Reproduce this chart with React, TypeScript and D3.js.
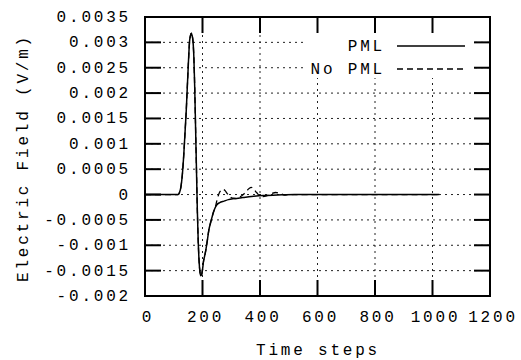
import React, { useRef, useEffect } from "react";
import * as d3 from "d3";

// time steps / field values
const pmlSteps = [0, 100, 115, 120, 125, 130, 135, 140, 143, 147, 151, 155, 158, 161, 164, 167, 170, 173, 176, 179, 182, 185, 188, 191, 194, 197, 200, 204, 208, 212, 217, 222, 227, 232, 238, 244, 250, 260, 275, 290, 310, 340, 370, 410, 460, 520, 1024];
const pmlField = [0, 0, 0, 0.00004, 0.00015, 0.0004, 0.0008, 0.0013, 0.0016, 0.0021, 0.0026, 0.00302, 0.00313, 0.00318, 0.00313, 0.00302, 0.0027, 0.0021, 0.0013, 0.0005, -0.0003, -0.0009, -0.0013, -0.00152, -0.0016, -0.00158, -0.00148, -0.0013, -0.0012, -0.00108, -0.0009, -0.0007, -0.00058, -0.00047, -0.00035, -0.00026, -0.0002, -0.00016, -0.00013, -0.0001, -0.00008, -0.00006, -0.00004, -0.00002, -0.00001, 0, 0];

const noPmlSteps = [0, 100, 115, 120, 125, 130, 135, 140, 143, 147, 151, 155, 158, 161, 164, 167, 170, 173, 176, 179, 182, 185, 188, 191, 194, 197, 200, 204, 208, 212, 217, 222, 227, 232, 238, 244, 250, 255, 260, 266, 272, 278, 286, 295, 305, 318, 330, 342, 352, 362, 370, 378, 388, 398, 410, 425, 440, 455, 470, 485, 500, 1024];
const noPmlField = [0, 0, 0, 0.00004, 0.00015, 0.0004, 0.0008, 0.0013, 0.0016, 0.0021, 0.0026, 0.00302, 0.00313, 0.00318, 0.00313, 0.00302, 0.0027, 0.0021, 0.0013, 0.0005, -0.0003, -0.0009, -0.0013, -0.00152, -0.0016, -0.00158, -0.00148, -0.0013, -0.0012, -0.00108, -0.0009, -0.0007, -0.00058, -0.00047, -0.00035, -0.00026, -0.00012, -0.00002, 0.00005, 0.00009, 0.0001, 0.00008, 0.00002, -0.00004, -0.00007, -0.00008, -0.00005, 0, 0.00006, 0.00012, 0.00014, 0.00011, 0.00004, -0.00002, -0.00004, -0.00002, 0.00002, 0.00004, 0.00002, -0.00001, 0, 0];

const xTicks = [0, 200, 400, 600, 800, 1000, 1200];
const yTicks = [-0.002, -0.0015, -0.001, -0.0005, 0, 0.0005, 0.001, 0.0015, 0.002, 0.0025, 0.003, 0.0035];

const seriesNames = ["PML", "No PML"];

const FONT = "'Liberation Mono', 'Courier New', monospace";

const FieldChart = () => {
  const svgRef = useRef<SVGSVGElement>(null);

  useEffect(() => {
    const root = d3.select(svgRef.current);
    root.selectAll("*").remove();

    const width = 521;
    const height = 360;
    const plot = { left: 145, right: 490, top: 17, bottom: 296 };
    const tickLen = 16;

    const x = d3.scaleLinear().domain([0, 1200]).range([plot.left, plot.right]);
    const y = d3.scaleLinear().domain([-0.002, 0.0035]).range([plot.bottom, plot.top]);

    const svg = root.attr("width", width).attr("height", height);
    svg.append("rect").attr("width", width).attr("height", height).attr("fill", "white");

    // grid
    const grid = svg.append("g").attr("stroke", "#222").attr("stroke-width", 1).attr("stroke-dasharray", "2,4");
    xTicks.slice(1, -1).forEach((t) => {
      grid.append("line").attr("x1", x(t)).attr("x2", x(t)).attr("y1", plot.top).attr("y2", plot.bottom);
    });
    yTicks.slice(1, -1).forEach((t) => {
      grid.append("line").attr("x1", plot.left).attr("x2", plot.right).attr("y1", y(t)).attr("y2", y(t));
    });

    // curves
    const line = d3
      .line<[number, number]>()
      .x((d) => x(d[0]))
      .y((d) => y(d[1]))
      .curve(d3.curveMonotoneX);

    const pml = pmlSteps.map((t, i) => [t, pmlField[i]] as [number, number]);
    const noPml = noPmlSteps.map((t, i) => [t, noPmlField[i]] as [number, number]);

    svg.append("path").attr("d", line(pml)).attr("fill", "none").attr("stroke", "black").attr("stroke-width", 1.5);
    svg
      .append("path")
      .attr("d", line(noPml))
      .attr("fill", "none")
      .attr("stroke", "black")
      .attr("stroke-width", 1.3)
      .attr("stroke-dasharray", "6,4");

    // legend (opaque box hides the grid)
    svg.append("rect").attr("x", 306).attr("y", 34).attr("width", 168).attr("height", 44).attr("fill", "white");
    const legend = svg.append("g").attr("font-family", FONT).attr("font-size", 16).attr("letter-spacing", 2.8);
    seriesNames.forEach((name, i) => {
      const cy = 46 + i * 23;
      legend
        .append("text")
        .attr("x", 385)
        .attr("y", cy + 5)
        .attr("text-anchor", "end")
        .text(name);
      legend
        .append("line")
        .attr("x1", 397)
        .attr("x2", 465)
        .attr("y1", cy)
        .attr("y2", cy)
        .attr("stroke", "black")
        .attr("stroke-width", i === 0 ? 1.5 : 1.3)
        .attr("stroke-dasharray", i === 0 ? null : "6,4");
    });

    // frame + inward ticks
    const ticks = svg.append("g").attr("stroke", "black").attr("stroke-width", 2);
    xTicks.forEach((t) => {
      ticks.append("line").attr("x1", x(t)).attr("x2", x(t)).attr("y1", plot.bottom).attr("y2", plot.bottom - tickLen);
      ticks.append("line").attr("x1", x(t)).attr("x2", x(t)).attr("y1", plot.top).attr("y2", plot.top + tickLen);
    });
    yTicks.forEach((t) => {
      ticks.append("line").attr("x1", plot.left).attr("x2", plot.left + tickLen).attr("y1", y(t)).attr("y2", y(t));
      ticks.append("line").attr("x1", plot.right).attr("x2", plot.right - tickLen).attr("y1", y(t)).attr("y2", y(t));
    });
    svg
      .append("rect")
      .attr("x", plot.left)
      .attr("y", plot.top)
      .attr("width", plot.right - plot.left)
      .attr("height", plot.bottom - plot.top)
      .attr("fill", "none")
      .attr("stroke", "black")
      .attr("stroke-width", 2);

    // tick labels
    const labels = svg.append("g").attr("font-family", FONT).attr("font-size", 16).attr("letter-spacing", 2.8).attr("fill", "black");
    xTicks.forEach((t) => {
      labels
        .append("text")
        .attr("x", x(t) + 3)
        .attr("y", 322)
        .attr("text-anchor", "middle")
        .text(String(t));
    });
    yTicks.forEach((t) => {
      labels
        .append("text")
        .attr("x", plot.left - 14)
        .attr("y", y(t) + 5)
        .attr("text-anchor", "end")
        .text(String(+t.toFixed(4)));
    });

    // axis titles
    labels
      .append("text")
      .attr("x", 318)
      .attr("y", 355)
      .attr("text-anchor", "middle")
      .text("Time steps");
    labels
      .append("text")
      .attr("transform", "translate(28,158) rotate(-90)")
      .attr("text-anchor", "middle")
      .text("Electric Field (V/m)");
  }, []);

  return <svg ref={svgRef} style={{ position: "absolute", left: 0, top: 0 }}></svg>;
};

export default function App() {
  return <FieldChart />;
}
